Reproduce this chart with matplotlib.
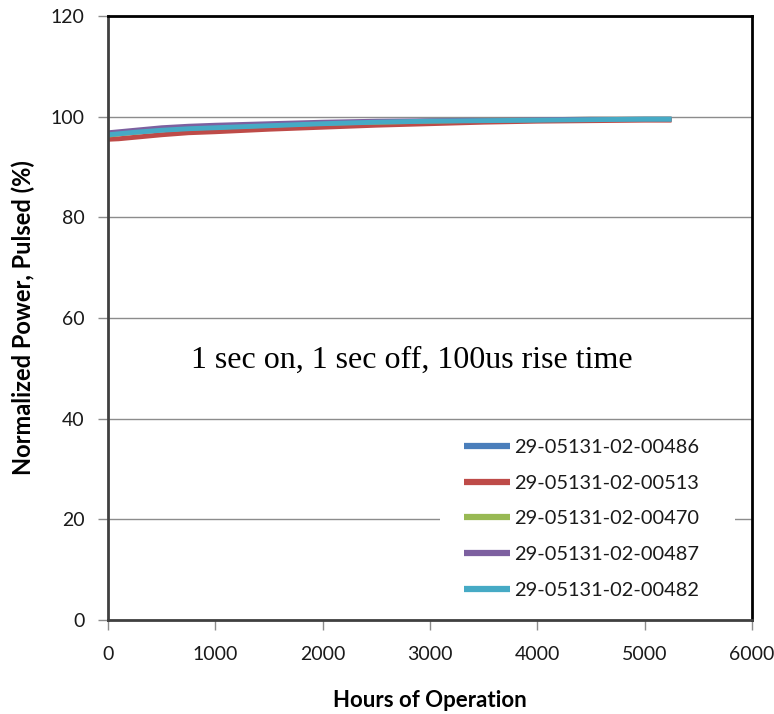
import matplotlib.pyplot as plt
from matplotlib.patches import Rectangle

plt.rcParams['font.family'] = ['Lato', 'DejaVu Sans']

# hours of operation (sample points)
hours = [0, 100, 250, 500, 750, 1000, 1500, 2000, 2500, 3000, 3500, 4000, 4500, 5000, 5250]

p_00486 = [96.4, 96.6, 96.9, 97.4, 97.7, 97.9, 98.3, 98.6, 98.9, 99.1, 99.2, 99.3, 99.4, 99.5, 99.5]
p_00513 = [95.5, 95.6, 95.9, 96.4, 96.8, 97.0, 97.5, 97.9, 98.3, 98.6, 98.9, 99.1, 99.2, 99.3, 99.3]
p_00470 = [96.3, 96.6, 96.9, 97.4, 97.7, 97.9, 98.3, 98.7, 98.9, 99.1, 99.3, 99.4, 99.5, 99.5, 99.5]
p_00487 = [96.8, 97.0, 97.3, 97.8, 98.1, 98.3, 98.6, 98.9, 99.1, 99.2, 99.3, 99.4, 99.5, 99.5, 99.5]
p_00482 = [96.4, 96.6, 96.9, 97.3, 97.6, 97.8, 98.2, 98.6, 98.9, 99.1, 99.2, 99.3, 99.4, 99.5, 99.5]

labels = ['29-05131-02-00486', '29-05131-02-00513', '29-05131-02-00470',
          '29-05131-02-00487', '29-05131-02-00482']
colors = ['#4a7ebb', '#be4b48', '#98b954', '#7d60a0', '#46aac5']
series = [p_00486, p_00513, p_00470, p_00487, p_00482]

fig = plt.figure(figsize=(7.74, 7.14), dpi=100)
ax = fig.add_axes([0.1395, 0.1317, 0.8321, 0.8459])

for vals, lab, col in zip(series, labels, colors):
    ax.plot(hours, vals, color=col, linewidth=3.5, label=lab, solid_capstyle='butt')

ax.set_xlim(0, 6000)
ax.set_ylim(0, 120)
ax.set_xticks(range(0, 6001, 1000))
ax.set_yticks(range(0, 121, 20))
ax.yaxis.grid(True, color='#8c8c8c', linewidth=1)
ax.set_axisbelow(True)
ax.tick_params(direction='out', length=7, width=1, color='#8c8c8c',
               labelsize=14, labelcolor='#1a1a1a')
ax.tick_params(axis='x', pad=12)
ax.tick_params(axis='y', pad=10)

for side in ['top', 'right']:
    ax.spines[side].set_color('black')
    ax.spines[side].set_linewidth(2)
for side in ['left', 'bottom']:
    ax.spines[side].set_color('#404040')
    ax.spines[side].set_linewidth(2)

ax.set_xlabel('Hours of Operation', fontsize=16, fontweight='bold', labelpad=19)
ax.set_ylabel('Normalized Power, Pulsed (%)', fontsize=17, fontweight='bold', labelpad=11)

ax.text(2830, 51.5, '1 sec on, 1 sec off, 100us rise time', family='Liberation Serif',
        fontsize=23, ha='center', va='center')

# white legend area (hides the gridline behind it)
ax.add_patch(Rectangle((0.5155, 0.030), 0.458, 0.285, transform=ax.transAxes,
                       facecolor='white', edgecolor='none', zorder=1.5))

leg = ax.legend(loc='center', bbox_to_anchor=(0.7352, 0.1672), frameon=False,
                fontsize=14.4, handlelength=2.3, handletextpad=0.2, labelspacing=0.93,
                borderpad=0.2)
for line in leg.get_lines():
    line.set_linewidth(4.5)
for t in leg.get_texts():
    t.set_color('#1a1a1a')

plt.savefig('out.png', dpi=100)
